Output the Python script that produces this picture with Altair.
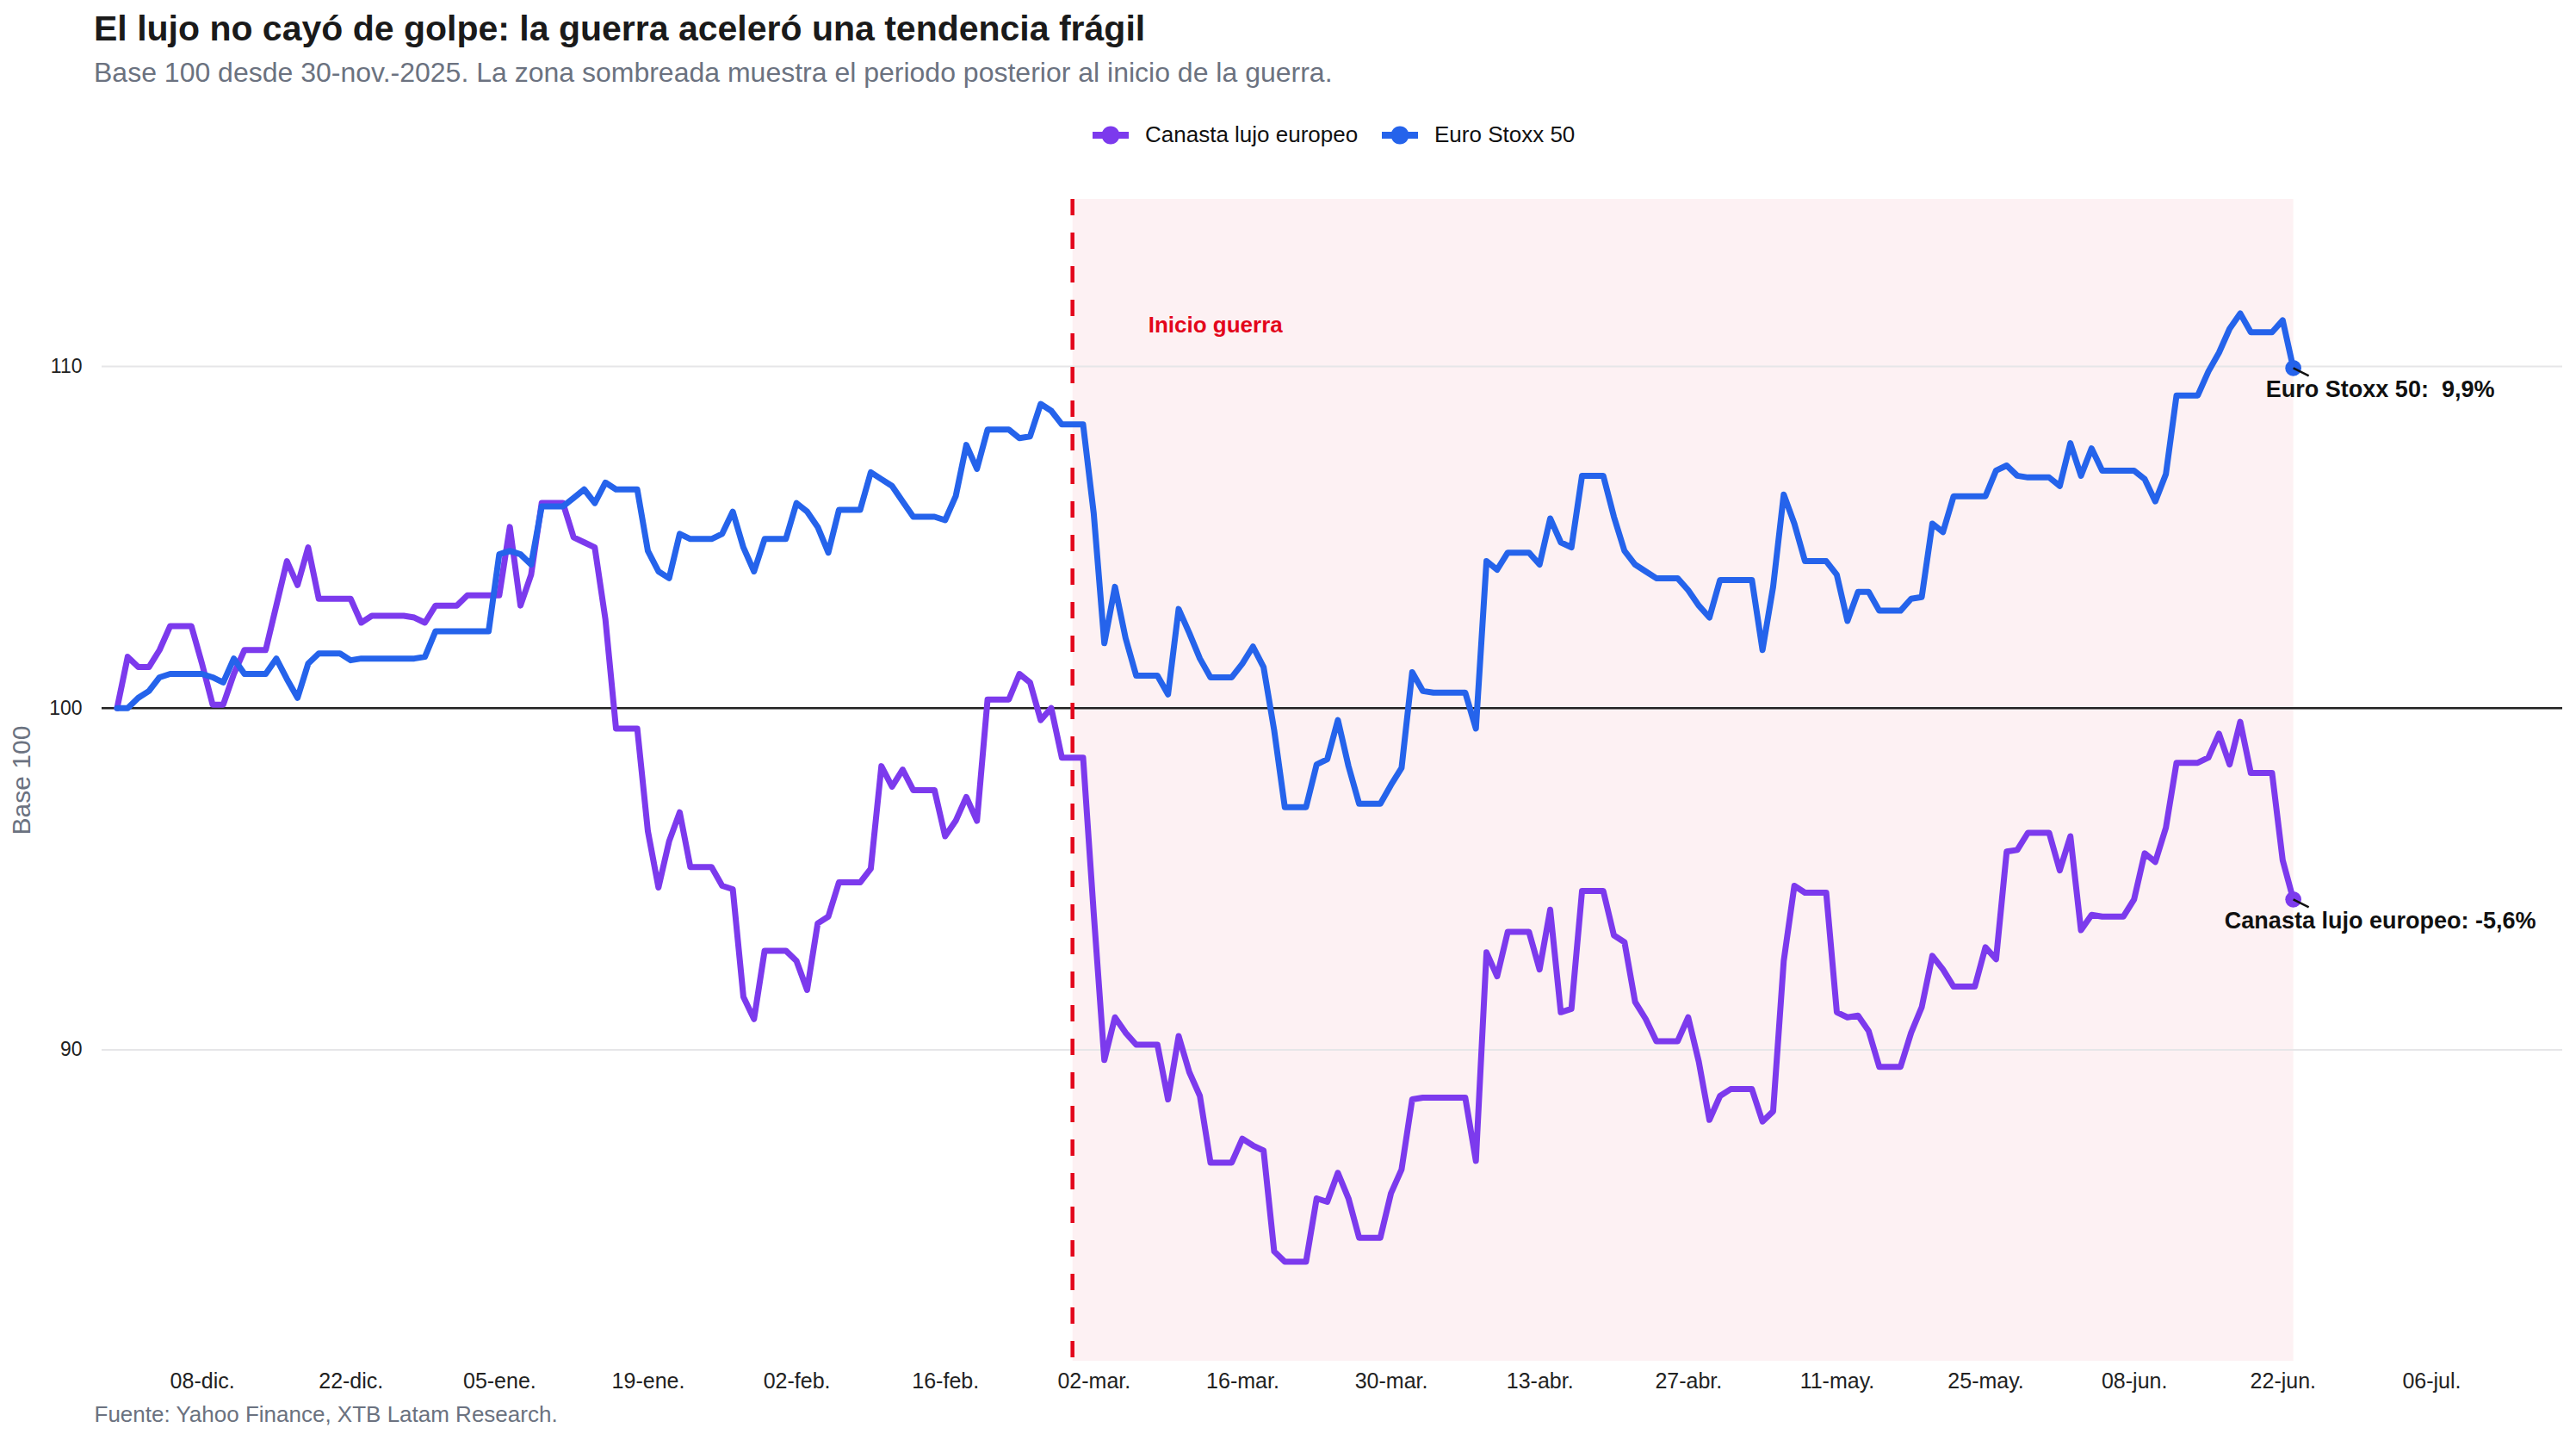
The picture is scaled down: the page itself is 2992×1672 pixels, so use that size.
import altair as alt
import pandas as pd

# ---------------- data ----------------
start_date = "2025-11-30"
end_date = "2026-06-23"
war_start = "2026-02-28"
war_label = "Inicio guerra"
war_label_y = 111.2

series_names = ["Canasta lujo europeo", "Euro Stoxx 50"]
series_colors = ["#7c3aed", "#2563eb"]
end_labels = ["Canasta lujo europeo: -5,6%", "Euro Stoxx 50:\u00a0 9,9%"]

# Canasta lujo europeo (base 100), daily values by month
lujo_nov = [100.0]
lujo_dic = [101.5, 101.2, 101.2, 101.7, 102.4, 102.4, 102.4, 101.3, 100.1, 100.1,
            101.0, 101.7, 101.7, 101.7, 103.0, 104.3, 103.6, 104.7, 103.2, 103.2,
            103.2, 103.2, 102.5, 102.7, 102.7, 102.7, 102.7, 102.65, 102.5, 103.0, 103.0]
lujo_ene = [103.0, 103.3, 103.3, 103.3, 103.3, 105.3, 103.0, 103.9, 106.0, 106.0,
            106.0, 105.0, 104.85, 104.7, 102.6, 99.4, 99.4, 99.4, 96.4, 94.75,
            96.1, 96.95, 95.35, 95.35, 95.35, 94.8, 94.7, 91.55, 90.9, 92.9, 92.9]
lujo_feb = [92.9, 92.6, 91.75, 93.7, 93.9, 94.9, 94.9, 94.9, 95.3, 98.3,
            97.7, 98.2, 97.6, 97.6, 97.6, 96.25, 96.7, 97.4, 96.7, 100.25,
            100.25, 100.25, 101.0, 100.75, 99.65, 100.0, 98.55, 98.55]
lujo_mar = [98.55, 94.0, 89.7, 90.95, 90.5, 90.15, 90.15, 90.15, 88.55, 90.4,
            89.35, 88.65, 86.7, 86.7, 86.7, 87.4, 87.2, 87.05, 84.1, 83.8,
            83.8, 83.8, 85.65, 85.55, 86.4, 85.65, 84.5, 84.5, 84.5, 85.8, 86.5]
lujo_abr = [88.55, 88.6, 88.6, 88.6, 88.6, 88.6, 86.75, 92.85, 92.15, 93.45,
            93.45, 93.45, 92.35, 94.1, 91.1, 91.2, 94.65, 94.65, 94.65, 93.35,
            93.15, 91.4, 90.9, 90.25, 90.25, 90.25, 90.95, 89.65, 87.95, 88.65]
lujo_may = [88.85, 88.85, 88.85, 87.9, 88.2, 92.6, 94.8, 94.6, 94.6, 94.6,
            91.1, 90.95, 91.0, 90.55, 89.5, 89.5, 89.5, 90.5, 91.25, 92.75,
            92.35, 91.85, 91.85, 91.85, 93.0, 92.65, 95.8, 95.85, 96.35, 96.35, 96.35]
lujo_jun = [95.25, 96.25, 93.5, 93.95, 93.9, 93.9, 93.9, 94.4, 95.75, 95.5,
            96.5, 98.4, 98.4, 98.4, 98.55, 99.25, 98.35, 99.6, 98.1, 98.1,
            98.1, 95.55, 94.4]

# Euro Stoxx 50 (base 100), daily values by month
euro_nov = [100.0]
euro_dic = [100.0, 100.3, 100.5, 100.9, 101.0, 101.0, 101.0, 101.0, 100.9, 100.75,
            101.45, 101.0, 101.0, 101.0, 101.45, 100.85, 100.3, 101.3, 101.6, 101.6,
            101.6, 101.4, 101.45, 101.45, 101.45, 101.45, 101.45, 101.45, 101.5, 102.25, 102.25]
euro_ene = [102.25, 102.25, 102.25, 102.25, 104.5, 104.6, 104.5, 104.2, 105.9, 105.9,
            105.9, 106.15, 106.4, 106.0, 106.6, 106.4, 106.4, 106.4, 104.6, 104.0,
            103.8, 105.1, 104.95, 104.95, 104.95, 105.1, 105.75, 104.7, 104.0, 104.95, 104.95]
euro_feb = [104.95, 106.0, 105.75, 105.3, 104.55, 105.8, 105.8, 105.8, 106.9, 106.7,
            106.5, 106.05, 105.6, 105.6, 105.6, 105.5, 106.2, 107.7, 107.0, 108.15,
            108.15, 108.15, 107.9, 107.95, 108.9, 108.7, 108.3, 108.3]
euro_mar = [108.3, 105.7, 101.9, 103.55, 102.05, 100.95, 100.95, 100.95, 100.4, 102.9,
            102.2, 101.45, 100.9, 100.9, 100.9, 101.3, 101.8, 101.2, 99.35, 97.1,
            97.1, 97.1, 98.35, 98.5, 99.65, 98.3, 97.2, 97.2, 97.2, 97.75, 98.25]
euro_abr = [101.05, 100.5, 100.45, 100.45, 100.45, 100.45, 99.4, 104.3, 104.05, 104.55,
            104.55, 104.55, 104.2, 105.55, 104.85, 104.7, 106.8, 106.8, 106.8, 105.6,
            104.6, 104.2, 104.0, 103.8, 103.8, 103.8, 103.45, 103.0, 102.65, 103.75]
euro_may = [103.75, 103.75, 103.75, 101.7, 103.55, 106.25, 105.4, 104.3, 104.3, 104.3,
            103.9, 102.55, 103.4, 103.4, 102.85, 102.85, 102.85, 103.2, 103.25, 105.4,
            105.15, 106.2, 106.2, 106.2, 106.2, 106.95, 107.1, 106.8, 106.75, 106.75, 106.75]
euro_jun = [106.5, 107.75, 106.8, 107.6, 106.95, 106.95, 106.95, 106.95, 106.7, 106.05,
            106.85, 109.15, 109.15, 109.15, 109.85, 110.4, 111.1, 111.55, 111.0, 111.0,
            111.0, 111.35, 109.95]

tick_dates = ["2025-12-08", "2025-12-22", "2026-01-05", "2026-01-19", "2026-02-02",
              "2026-02-16", "2026-03-02", "2026-03-16", "2026-03-30", "2026-04-13",
              "2026-04-27", "2026-05-11", "2026-05-25", "2026-06-08", "2026-06-22",
              "2026-07-06"]
y_ticks = [90, 100, 110]
base_line = [100]

title_text = "El lujo no cayó de golpe: la guerra aceleró una tendencia frágil"
subtitle_text = "Base 100 desde 30-nov.-2025. La zona sombreada muestra el periodo posterior al inicio de la guerra."
source_text = "Fuente: Yahoo Finance, XTB Latam Research."

# ---------------- tables ----------------
lujo = lujo_nov + lujo_dic + lujo_ene + lujo_feb + lujo_mar + lujo_abr + lujo_may + lujo_jun
euro = euro_nov + euro_dic + euro_ene + euro_feb + euro_mar + euro_abr + euro_may + euro_jun
dates = [d.strftime("%Y-%m-%d") for d in pd.date_range(start_date, end_date, freq="D")]
assert len(lujo) == len(dates) == len(euro)

df = pd.DataFrame({
    "fecha": dates * 2,
    "serie": [series_names[0]] * len(dates) + [series_names[1]] * len(dates),
    "valor": lujo + euro,
})
last = pd.DataFrame({
    "fecha": [end_date, end_date],
    "serie": series_names,
    "valor": [lujo[-1], euro[-1]],
    "etiqueta": end_labels,
})
war_df = pd.DataFrame({"inicio": [war_start], "fin": [end_date], "txt": [war_label], "y": [war_label_y]})
grid_df = pd.DataFrame({"y": y_ticks})
base_df = pd.DataFrame({"y": base_line})

W, H = 2858, 1349
FONT = "Liberation Sans"


def dt(s, hours=0):
    y, m, d = (int(v) for v in s.split("-"))
    return alt.DateTime(year=y, month=m, date=d, hours=hours, utc=True)


x_scale = alt.Scale(type="utc", domain=[dt("2025-11-28", 13), dt("2026-07-18", 8)])
y_scale = alt.Scale(domain=[80.9, 114.9], nice=False, zero=False)
color_scale = alt.Scale(domain=series_names, range=series_colors)

month_names = "['ene','feb','mar','abr','may','jun','jul','ago','sep','oct','nov','dic']"
x_axis = alt.Axis(
    values=[dt(s) for s in tick_dates],
    labelExpr="utcFormat(datum.value, '%d') + '-' + " + month_names + "[utcmonth(datum.value)] + '.'",
    grid=False, ticks=False, domain=False,
    labelFontSize=25, labelColor="#222222", labelPadding=11, labelFont=FONT,
    labelOverlap=False, labelFlush=False,
    title=source_text, titleAnchor="start", titleAlign="left", titleX=-9, titleY=70,
    titleBaseline="alphabetic", titleFontSize=26, titleFontWeight="normal",
    titleColor="#6b7280", titleFont=FONT,
)
y_axis = alt.Axis(
    values=y_ticks, grid=False, ticks=False, domain=False,
    labelFontSize=23, labelColor="#222222", labelPadding=23, labelFont=FONT,
    title="Base 100", titleFontSize=30, titleFontWeight="normal", titleColor="#6b7280",
    titleFont=FONT, titlePadding=16,
)

shade = alt.Chart(war_df).mark_rect(color="#fdf1f3").encode(
    x=alt.X("inicio:T", scale=x_scale, axis=x_axis),
    x2="fin:T",
    y=alt.value(0),
    y2=alt.value(H),
)

grid = alt.Chart(grid_df).mark_rule(color="#e6e6e8", strokeWidth=2).encode(
    y=alt.Y("y:Q", scale=y_scale, axis=y_axis)
)

base = alt.Chart(base_df).mark_rule(color="#222222", strokeWidth=2.5).encode(
    y=alt.Y("y:Q", scale=y_scale)
)

line_layers = []
for name, col in zip(series_names, series_colors):
    line_layers.append(
        alt.Chart(df).transform_filter(alt.datum.serie == name)
        .mark_line(color=col, strokeWidth=7, strokeJoin="round", strokeCap="round")
        .encode(
            x=alt.X("fecha:T", scale=x_scale),
            y=alt.Y("valor:Q", scale=y_scale),
        )
    )

war_rule = alt.Chart(war_df).mark_rule(color="#e3061b", strokeWidth=4.5, strokeDash=[19, 20]).encode(
    x=alt.X("inicio:T", scale=x_scale)
)

legend_symbol = ("M-1,-0.19L1,-0.19L1,0.19L-1,0.19Z "
                 "M-0.5,0A0.5,0.5 0 1,1 0.5,0A0.5,0.5 0 1,1 -0.5,0Z")
dots = alt.Chart(last).mark_circle(size=350, opacity=1).encode(
    x=alt.X("fecha:T", scale=x_scale),
    y=alt.Y("valor:Q", scale=y_scale),
    color=alt.Color(
        "serie:N", scale=color_scale,
        legend=alt.Legend(
            title=None, orient="none", legendX=1151, legendY=-95, direction="horizontal",
            padding=0, symbolType=legend_symbol, symbolSize=1764, symbolStrokeWidth=0,
            symbolOpacity=1, labelFontSize=26, labelFont=FONT, labelColor="#111111",
            labelOffset=19, columnPadding=27, labelLimit=0,
        ),
    ),
)

leaders = alt.Chart(last).mark_point(
    shape="M0,0L1,0.5", size=1296, filled=False, stroke="#111111", strokeWidth=2.5, opacity=1
).encode(
    x=alt.X("fecha:T", scale=x_scale),
    y=alt.Y("valor:Q", scale=y_scale),
)

end_text = alt.Chart(last).mark_text(
    font=FONT, fontSize=27, fontWeight="bold", color="#111111", align="center",
    baseline="middle", dx=101, dy=26
).encode(
    x=alt.X("fecha:T", scale=x_scale),
    y=alt.Y("valor:Q", scale=y_scale),
    text="etiqueta:N",
)

war_text = alt.Chart(war_df).mark_text(
    font=FONT, fontSize=26, fontWeight="bold", color="#e3061b", align="left",
    baseline="middle", dx=88
).encode(
    x=alt.X("inicio:T", scale=x_scale),
    y=alt.Y("y:Q", scale=y_scale),
    text="txt:N",
)

chart = alt.layer(
    shade, grid, base, *line_layers, war_rule, dots, leaders, end_text, war_text
).properties(
    width=W, height=H,
    autosize=alt.AutoSizeParams(type="none"),
    padding={"left": 118, "top": 231, "right": 16, "bottom": 92},
    background="white",
    title=alt.TitleParams(
        text=title_text, subtitle=subtitle_text, anchor="start", frame="group", dx=-9,
        offset=34, font=FONT, fontSize=41, fontWeight="bold", color="#1a1a1a",
        subtitleFont=FONT, subtitleFontSize=32, subtitleColor="#6b7280", subtitlePadding=14,
    ),
).configure(font=FONT).configure_view(strokeWidth=0, stroke="transparent")

chart.save("out.html", embed_options={"renderer": "svg", "actions": False})
